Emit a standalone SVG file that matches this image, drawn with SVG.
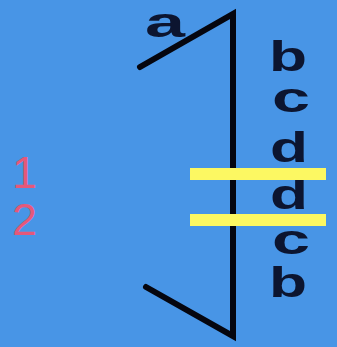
<svg xmlns="http://www.w3.org/2000/svg" width="337" height="347" viewBox="0 0 337 347">
<style>
.l{font-family:"Liberation Sans",Arial,sans-serif;font-weight:bold;font-size:42px;fill:#0c1530}
.n{font-family:"Liberation Sans",Arial,sans-serif;font-size:45px;fill:#e5587a}
.bar{fill:#fcf862}
</style>
<rect width="337" height="347" fill="#4895e6"/>
<g id="shape" fill="none" stroke="#05060f" stroke-width="6" stroke-linecap="round" stroke-linejoin="miter">
<polyline points="140,67 233,14 233,336 146,287"/>
</g>
<g id="labels">
<text class="l" x="145" y="37" textLength="40" lengthAdjust="spacingAndGlyphs" font-size="46">a</text>
<text class="l" x="269" y="71" textLength="38" lengthAdjust="spacingAndGlyphs">b</text>
<text class="l" x="272" y="112" textLength="38" lengthAdjust="spacingAndGlyphs">c</text>
<text class="l" x="270" y="162" textLength="38" lengthAdjust="spacingAndGlyphs">d</text>
<text class="l" x="270" y="209" textLength="38" lengthAdjust="spacingAndGlyphs">d</text>
<text class="l" x="272" y="254" textLength="38" lengthAdjust="spacingAndGlyphs">c</text>
<text class="l" x="269" y="297" textLength="38" lengthAdjust="spacingAndGlyphs">b</text>
</g>
<g id="numbers">
<text class="n" x="12" y="188">1</text>
<text class="n" x="12" y="235">2</text>
</g>
<g id="bars">
<rect class="bar" x="190" y="168" width="136" height="12"/>
<rect class="bar" x="190" y="214" width="136" height="12"/>
</g>
</svg>
